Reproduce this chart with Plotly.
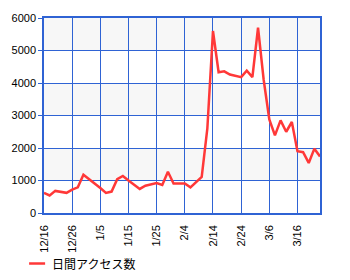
import plotly.graph_objects as go
import pandas as pd

series_name = "日間アクセス数"
start_date = "2010-12-16"
end_date = "2011-03-24"
# values every 2 days from 12/16
values = [620, 540, 680, 650, 620, 720, 790, 1180, 1050, 910,
          770, 620, 660, 1040, 1140, 1000, 870, 740, 840, 875,
          920, 860, 1270, 910, 910, 910, 790, 950, 1110, 2600,
          5600, 4330, 4360, 4260, 4220, 4180, 4380, 4180, 5700, 4100,
          2880, 2390, 2850, 2500, 2800, 1900, 1870, 1540, 1980, 1740]
dates = pd.date_range(start_date, periods=len(values), freq="2D")
tick_dates = pd.date_range(start_date, end_date, freq="10D")
tick_text = [f"{d.month}/{d.day}" for d in tick_dates]
y_ticks = [0, 1000, 2000, 3000, 4000, 5000, 6000]
band_ranges = [(1000, 2000), (3000, 4000), (5000, 6000)]

blue = "#2f63d4"
fig = go.Figure()
fig.add_trace(go.Scatter(x=dates, y=values, mode="lines", name=series_name,
                         line=dict(color="#ff3838", width=2.5), showlegend=False))

for lo, hi in band_ranges:
    fig.add_shape(type="rect", xref="paper", yref="y", x0=0, x1=1, y0=lo, y1=hi,
                  fillcolor="#f7f7f7", line_width=0, layer="below")

# legend drawn manually
fig.add_shape(type="line", xref="paper", yref="paper", x0=-0.054, x1=0.004,
              y0=-0.259, y1=-0.259, line=dict(color="#ff3838", width=2.5))
fig.add_annotation(xref="paper", yref="paper", x=0.022, y=-0.259, text=series_name,
                   showarrow=False, xanchor="left", yanchor="middle",
                   font=dict(family="Noto Sans CJK JP", size=12, color="black"))

fig.update_layout(
    width=350, height=280,
    margin=dict(l=42, r=30, t=12, b=67),
    paper_bgcolor="white", plot_bgcolor="white",
    font=dict(family="Liberation Sans", size=11, color="black"),
    xaxis=dict(type="date", range=[start_date, end_date], tickvals=tick_dates,
               ticktext=tick_text, tickangle=-90, showgrid=True, gridcolor=blue,
               gridwidth=1, showline=True, linecolor=blue, linewidth=1.5, mirror=True,
               ticks="outside", ticklen=6, tickcolor="rgba(0,0,0,0)", zeroline=False),
    yaxis=dict(range=[0, 6000], tickvals=y_ticks, showgrid=True, gridcolor=blue,
               gridwidth=1, showline=True, linecolor=blue, linewidth=1.5, mirror=True,
               ticks="outside", ticklen=4, tickcolor=blue, zeroline=False),
)
fig.write_html("out.html")
